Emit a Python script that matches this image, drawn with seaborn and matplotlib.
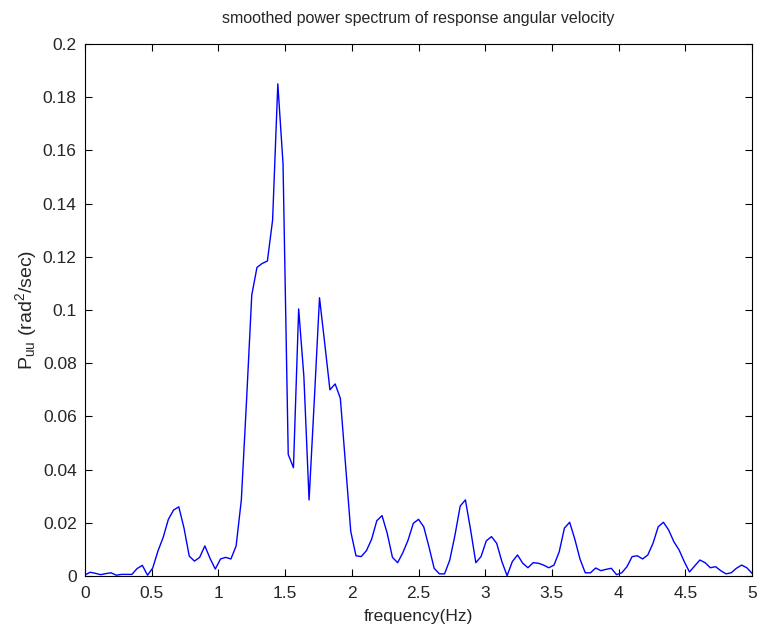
import numpy as np
import pandas as pd
import matplotlib
matplotlib.use('Agg')
import matplotlib.pyplot as plt
import seaborn as sns

# smoothed spectrum values (129 bins from 0 to 5 Hz)
power = [
    0.0004, 0.0014, 0.0010, 0.0005, 0.0009, 0.0012, 0.0003, 0.0006, 0.0006, 0.0006,
    0.0028, 0.0040, 0.0003, 0.0030, 0.0094, 0.0145, 0.0213, 0.0248, 0.0260, 0.0180,
    0.0075, 0.0056, 0.0070, 0.0113, 0.0066, 0.0026, 0.0064, 0.0070, 0.0064, 0.0113,
    0.0286, 0.0660, 0.1056, 0.1160, 0.1175, 0.1184, 0.1338, 0.1850, 0.1550, 0.0457,
    0.0407, 0.1004, 0.0750, 0.0286, 0.0660, 0.1046, 0.0875, 0.0700, 0.0722, 0.0668,
    0.0420, 0.0167, 0.0076, 0.0073, 0.0095, 0.0138, 0.0208, 0.0227, 0.0160, 0.0070,
    0.0050, 0.0088, 0.0135, 0.0198, 0.0213, 0.0185, 0.0110, 0.0029, 0.0008, 0.0008,
    0.0060, 0.0154, 0.0263, 0.0286, 0.0173, 0.0050, 0.0073, 0.0132, 0.0148, 0.0123,
    0.0054, 0.0001, 0.0054, 0.0079, 0.0048, 0.0031, 0.0050, 0.0048, 0.0041, 0.0031,
    0.0041, 0.0091, 0.0180, 0.0202, 0.0138, 0.0063, 0.0012, 0.0012, 0.0030, 0.0020,
    0.0025, 0.0029, 0.0005, 0.0012, 0.0035, 0.0073, 0.0076, 0.0064, 0.0079, 0.0123,
    0.0185, 0.0202, 0.0173, 0.0129, 0.0098, 0.0054, 0.0015, 0.0038, 0.0060, 0.0050,
    0.0031, 0.0035, 0.0020, 0.0008, 0.0012, 0.0029, 0.0041, 0.0031, 0.0010,
]
freq = np.linspace(0, 5, len(power))

xticks = [0, 0.5, 1, 1.5, 2, 2.5, 3, 3.5, 4, 4.5, 5]
xticklabels = ['0', '0.5', '1', '1.5', '2', '2.5', '3', '3.5', '4', '4.5', '5']
yticks = [0, 0.02, 0.04, 0.06, 0.08, 0.1, 0.12, 0.14, 0.16, 0.18, 0.2]
yticklabels = ['0', '0.02', '0.04', '0.06', '0.08', '0.1', '0.12', '0.14', '0.16', '0.18', '0.2']

df = pd.DataFrame({'freq': freq, 'power': power})

sns.set_style('white')
plt.rcParams['font.family'] = ['Liberation Sans', 'DejaVu Sans']
plt.rcParams['mathtext.default'] = 'regular'

fig = plt.figure(figsize=(7.61, 6.34), dpi=100)
ax = fig.add_axes([0.1117, 0.0915, 0.8765, 0.8391])

sns.lineplot(data=df, x='freq', y='power', color='#0000ff', linewidth=1.0, ax=ax)

ax.set_xlim(0, 5)
ax.set_ylim(0, 0.2)
ax.set_xticks(xticks)
ax.set_xticklabels(xticklabels, fontsize=12.5)
ax.set_yticks(yticks)
ax.set_yticklabels(yticklabels, fontsize=12.5)
ax.tick_params(direction='in', length=5, width=0.8, color='black',
               top=True, right=True, bottom=True, left=True)
ax.tick_params(axis='x', pad=7)
ax.tick_params(axis='y', pad=6)
for s in ax.spines.values():
    s.set_visible(True)
    s.set_color('black')
    s.set_linewidth(0.8)

ax.set_title('smoothed power spectrum of response angular velocity', fontsize=11.5, pad=15)
ax.set_xlabel('frequency(Hz)', fontsize=12.5, labelpad=6)
ax.set_ylabel('$P_{uu}$ (rad$^2$/sec)', fontsize=14, labelpad=3)

fig.savefig('out.png', dpi=100)
